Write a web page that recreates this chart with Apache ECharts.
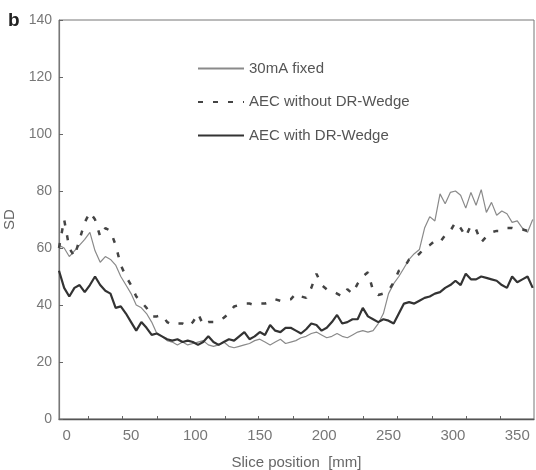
<!DOCTYPE html>
<html>
<head>
<meta charset="utf-8">
<script src="https://cdn.jsdelivr.net/npm/echarts@6/dist/echarts.min.js"></script>
<style>
  html, body { margin: 0; padding: 0; background: #fff; }
  #main { width: 536px; height: 470px; }
</style>
</head>
<body>
<div id="main"></div>
<script>
// slice positions (mm), every 4 mm
var slicePos = [-6, -2, 2, 6, 10, 14, 18, 22, 26, 30, 34, 38, 42, 46, 50, 54, 58, 62, 66, 70,
  74, 78, 82, 86, 90, 94, 98, 102, 106, 110, 114, 118, 122, 126, 130, 134, 138, 142, 146, 150,
  154, 158, 162, 166, 170, 174, 178, 182, 186, 190, 194, 198, 202, 206, 210, 214, 218, 222, 226, 230,
  234, 238, 242, 246, 250, 254, 258, 262, 266, 270, 274, 278, 282, 286, 290, 294, 298, 302, 306, 310,
  314, 318, 322, 326, 330, 334, 338, 342, 346, 350, 354, 358, 362];

// 30mA fixed
var fixedSD = [61, 60, 57, 59, 61, 63, 65.5, 59, 55, 57, 56, 54, 50, 47, 44, 40, 39, 37, 34, 30,
  29, 27.5, 27, 26, 27, 26, 26.5, 27, 27.5, 26, 25.5, 26, 27, 25.5, 25, 25.5, 26, 26.5, 27.5, 28,
  27, 26, 27, 28, 26.5, 27, 27.5, 28.5, 29, 30, 30.5, 29.5, 28.5, 29, 30, 29, 28.5, 29.5, 30.5, 31,
  30.5, 31, 33.5, 37, 44, 47.5, 50, 53, 56, 58, 59.5, 67, 71, 69.5, 79, 75.5, 79.5, 80, 78.5, 74,
  79.5, 75, 80.5, 72.5, 76, 71.5, 73, 72, 69, 69.5, 67, 65.5, 70];

// AEC without DR-Wedge
var aecNoWedge = [60, 70, 60, 57, 63, 69, 72.5, 70, 64, 67, 66, 61, 54, 50, 47, 43, 41, 39, 36, 36,
  36.5, 34, 33, 33.5, 33.5, 32.5, 34, 37, 33, 34, 34, 34.5, 35.5, 37, 39.5, 40, 40.5, 40.5, 40, 40.5,
  40.5, 41, 42, 41.5, 42, 42, 44, 43, 42.5, 46, 51, 47, 45.5, 45, 44, 43, 45.5, 44, 47.5, 50,
  51.5, 45, 43.5, 44, 45, 48, 52, 53, 56, 56.5, 58, 60, 61, 62.5, 62, 64.5, 66, 69, 67, 64,
  68, 66.5, 62, 64, 65.5, 66, 66, 67, 67, 66.5, 66.5, 66, 66];

// AEC with DR-Wedge
var aecWedge = [52, 46, 43, 46, 47, 44.5, 47, 50, 47, 45, 44, 39, 39.5, 37, 34, 31, 34, 32, 29.5, 30,
  29, 28, 27.5, 28, 27, 27.5, 27, 26, 27, 29, 27, 26, 27, 28, 27.5, 29, 30.5, 28, 29, 30.5,
  29.5, 33, 31, 30.5, 32, 32, 31, 30, 31.5, 33.5, 33, 31, 32, 34, 36.5, 33.5, 34, 35, 35, 39,
  36, 35, 34, 35, 34.5, 33.5, 37, 40.5, 41, 40.5, 41.5, 42.5, 43, 44, 44.5, 46, 47, 48.5, 47, 51,
  49, 49, 50, 49.5, 49, 48.5, 47, 46, 50, 48, 49, 50, 46];

var xLabels = [0, 50, 100, 150, 200, 250, 300, 350];
var xTicks = [17, 43, 70, 96, 123, 149, 176, 203, 230, 257, 284, 310, 337];

function pairs(ys) {
  return slicePos.map(function (x, i) { return [x, ys[i]]; });
}

var font = 'Liberation Sans, Arial, sans-serif';
var chart = echarts.init(document.getElementById('main'));

var option = {
  backgroundColor: '#fff',
  animation: false,
  textStyle: { fontFamily: font },
  grid: {
    left: 59, right: 2, top: 20, bottom: 51,
    outerBoundsMode: 'none',
    show: true, borderColor: '#777', borderWidth: 1, backgroundColor: 'transparent'
  },
  graphic: [{
    type: 'text', left: 8, top: 11,
    style: { text: 'b', fontSize: 19, fontWeight: 'bold', fill: '#222', fontFamily: font }
  }],
  legend: {
    orient: 'vertical',
    left: 197, top: 61, padding: 0,
    itemWidth: 46, itemHeight: 14, itemGap: 18.5,
    itemStyle: { opacity: 0 },
    textStyle: { fontSize: 15, color: '#555', fontFamily: font },
    data: ['30mA fixed', 'AEC without DR-Wedge', 'AEC with DR-Wedge']
  },
  xAxis: {
    type: 'value',
    min: -6, max: 363,
    name: 'Slice position  [mm]',
    nameLocation: 'middle', nameGap: 36,
    nameTextStyle: { fontSize: 15, color: '#666' },
    axisLine: { lineStyle: { color: '#555', width: 1.3 } },
    axisTick: { inside: true, length: 3, customValues: xTicks, lineStyle: { color: '#666' } },
    axisLabel: { customValues: xLabels, fontSize: 15, color: '#777', margin: 9 },
    splitLine: { show: false }
  },
  yAxis: {
    type: 'value',
    min: 0, max: 140, interval: 20,
    name: 'SD',
    nameLocation: 'middle', nameGap: 37,
    nameTextStyle: { fontSize: 15, color: '#666' },
    axisLine: { onZero: false, lineStyle: { color: '#777', width: 1.2 } },
    axisTick: { inside: true, length: 4, lineStyle: { color: '#666' } },
    axisLabel: { fontSize: 14, color: '#777', margin: 7 },
    splitLine: { show: false }
  },
  series: [{
    name: '30mA fixed',
    type: 'line',
    symbol: 'none',
    data: pairs(fixedSD),
    lineStyle: { color: '#8a8a8a', width: 1.2 },
    itemStyle: { color: '#8a8a8a' },
    z: 2
  }, {
    name: 'AEC without DR-Wedge',
    type: 'line',
    symbol: 'none',
    data: pairs(aecNoWedge),
    lineStyle: { color: '#444', width: 2.5, type: [5, 10] },
    itemStyle: { color: '#444' },
    z: 3
  }, {
    name: 'AEC with DR-Wedge',
    type: 'line',
    symbol: 'none',
    data: pairs(aecWedge),
    lineStyle: { color: '#333', width: 2.2 },
    itemStyle: { color: '#333' },
    z: 4
  }]
};
chart.setOption(option);
</script>
</body>
</html>
